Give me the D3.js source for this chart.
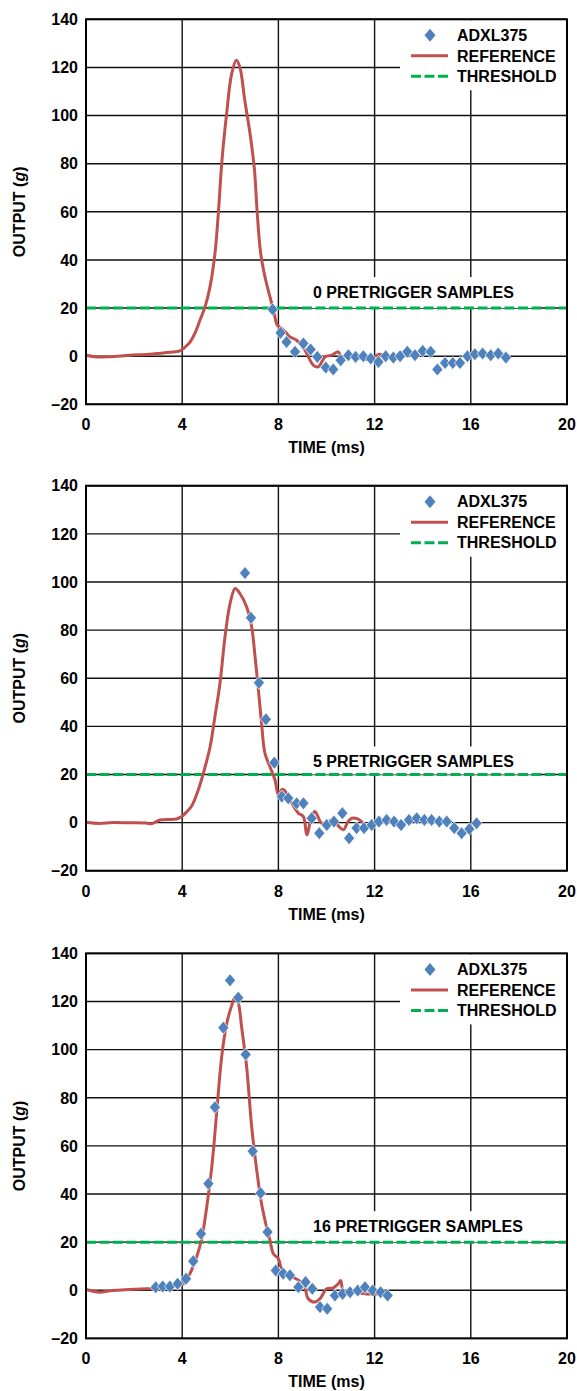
<!DOCTYPE html>
<html>
<head>
<meta charset="utf-8">
<script src="https://cdn.jsdelivr.net/npm/d3@7"></script>
<style>
  body { margin: 0; background: #fff; }
  text { font-family: "Liberation Sans", Arial, sans-serif; font-weight: bold; fill: #000; }
</style>
</head>
<body>
<div id="main"></div>
<script>
const ctx = {
    w: 577,
    h: 1391,
    left: 86,
    right: 567,
    panelTops: [19.3, 485.7, 953.4],
    plotH: 385,
    fontSize: 16,
    RED: "#C0504D",
    BLUE: "#4F81BD",
    GREEN: "#00B050",
};

const X_TICKS = [0, 4, 8, 12, 16, 20];
const Y_TICKS = [-20, 0, 20, 40, 60, 80, 100, 120, 140];
const THRESHOLD = 20;
const LEGEND_NAMES = ["ADXL375", "REFERENCE", "THRESHOLD"];
const PANEL_LABELS = ["0 PRETRIGGER SAMPLES", "5 PRETRIGGER SAMPLES", "16 PRETRIGGER SAMPLES"];

// reference accelerometer, [time ms, g]
const ref0 = [[0, 0.4], [0.44, -0.3], [1, -0.2], [1.83, 0.4], [2.5, 0.7], [2.94, 1.1], [3.5, 1.6], [3.91, 2.2], [4.05, 3.2],
    [4.3, 5.5], [4.55, 10], [4.74, 15], [4.95, 20.5], [5.16, 29], [5.36, 42.5], [5.5, 59], [5.65, 81], [5.85, 101],
    [6.05, 117], [6.25, 123], [6.4, 120], [6.6, 106.5], [6.82, 92.5], [7.0, 78], [7.12, 59.5], [7.26, 43],
    [7.44, 33], [7.65, 24.6], [7.8, 19], [7.95, 13], [8.1, 11.8], [8.3, 10], [8.48, 8], [8.76, 6.6], [9.1, 2.5],
    [9.45, -3.7], [9.66, -4.4], [9.94, -0.3], [10.22, 0.4], [10.49, 1.8], [10.63, -0.3], [11.0, 0], [11.4, -0.8],
    [11.8, -1.5], [12.2, 0.8], [12.4, 0]];
const adxl0 = [[7.76, 19.4], [8.09, 9.7], [8.34, 5.9], [8.69, 1.8], [9.04, 5.3], [9.34, 2.8], [9.62, -0.3],
    [9.97, -4.7], [10.28, -5.5], [10.59, -1.7], [10.91, 0.4], [11.21, -0.3], [11.53, 0], [11.84, -1], [12.16, -2.4],
    [12.46, 0], [12.78, -0.6], [13.06, 0], [13.36, 1.8], [13.68, 0.4], [14.0, 2.2], [14.33, 1.8], [14.61, -5.5],
    [14.93, -2.8], [15.25, -2.8], [15.55, -2.8], [15.86, 0], [16.17, 0.8], [16.49, 1.1], [16.83, 0.4], [17.14, 1.1],
    [17.46, -0.6]];

const ref5 = [[0, 0.1], [0.55, -0.4], [1.1, 0], [1.8, -0.1], [2.5, -0.2], [2.73, -0.5], [3.08, 1.1], [3.77, 1.5],
    [3.98, 2.5], [4.19, 4.5], [4.4, 7], [4.67, 13.6], [4.88, 20.5], [5.16, 31.5], [5.36, 44], [5.57, 57.8], [5.78, 77.2],
    [5.99, 91], [6.2, 97.3], [6.4, 95.2], [6.68, 89.6], [6.89, 81.3], [7.03, 68.9], [7.17, 55], [7.3, 41.2],
    [7.44, 28.8], [7.65, 23.2], [7.86, 17.7], [8.0, 11.5], [8.15, 13.8], [8.27, 13.2], [8.48, 9.4], [8.83, 3.9],
    [9.04, 2.5], [9.18, -5.1], [9.38, 2.5], [9.52, 4.6], [9.8, -0.3], [10.05, 0.3], [10.28, 1.1], [10.5, -1.5],
    [10.7, -3], [10.9, 0.5], [11.05, 1.8], [11.3, 1.5], [11.53, -0.3]];
const adxl5 = [[6.61, 103.7], [6.86, 85.1], [7.19, 58.1], [7.48, 42.9], [7.83, 24.9], [8.14, 10.8], [8.41, 10.1],
    [8.76, 8], [9.04, 8], [9.38, 1.8], [9.7, -4.4], [10.01, -1], [10.31, 0.4], [10.66, 3.9], [10.94, -6.5],
    [11.25, -2.3], [11.56, -2.3], [11.88, -1], [12.18, 0.4], [12.5, 1.1], [12.81, 0.4], [13.1, -1], [13.43, 1.1],
    [13.75, 1.8], [14.07, 1.1], [14.37, 1.1], [14.69, 0.4], [15.0, 0.4], [15.31, -2.3], [15.62, -4.4], [15.94, -2.7],
    [16.24, -0.3]];

const ref16 = [[0, 0.3], [0.55, -0.8], [1.1, -0.1], [1.8, 0.3], [2.52, 0.6], [2.8, 0.6], [3.3, 1.2], [3.8, 2],
    [4.05, 2.7], [4.32, 6.9], [4.6, 13.8], [4.81, 21.4], [5.02, 34.6], [5.23, 51.2], [5.43, 73.4], [5.64, 96.9],
    [5.85, 110.8], [6.06, 118.4], [6.2, 121.9], [6.34, 119.1], [6.47, 109.4], [6.68, 92.8], [6.89, 67.8], [7.1, 49.8],
    [7.3, 36], [7.51, 26.2], [7.65, 20.7], [7.79, 15.2], [8.0, 13.1], [8.14, 8.9], [8.62, 5.4], [9.04, 2.7],
    [9.24, -3.5], [9.52, -4.9], [9.73, -3.5], [10.01, 0.6], [10.28, 1], [10.49, 2.7], [10.59, 4.1], [10.7, -0.1],
    [11.1, -0.8], [11.67, -1.5], [12.22, -1.5]];
const adxl16 = [[2.9, 1.3], [3.19, 1.6], [3.49, 1.6], [3.81, 2.7], [4.16, 4.8], [4.46, 12.1], [4.78, 23.5],
    [5.09, 44.3], [5.36, 76.1], [5.71, 109.1], [5.99, 128.8], [6.33, 121.6], [6.64, 98], [6.93, 57.8], [7.26, 40.4],
    [7.55, 24.2], [7.89, 8.2], [8.2, 6.9], [8.48, 6.2], [8.83, 1.3], [9.13, 3.4], [9.41, 0.6], [9.73, -7],
    [10.03, -7.7], [10.35, -2.2], [10.67, -1.5], [10.98, -0.8], [11.3, -0.1], [11.6, 1.3], [11.92, -0.1],
    [12.25, -0.8], [12.54, -2.2]];

const REF_SERIES = [ref0, ref5, ref16];
const ADXL_SERIES = [adxl0, adxl5, adxl16];
// gap between the panel label baseline and the threshold line
const LABEL_GAPS = [10, 7, 10];

const diamond = "M0,-6.5L5.5,0L0,6.5L-5.5,0Z";

function fmt(v) {
    return v < 0 ? "\u2013" + Math.abs(v) : String(v);
}

function drawPanel(svgEl, i) {
    const top = ctx.panelTops[i];
    const g = svgEl.append("g").attr("transform", `translate(0,${top})`);
    const x = d3.scaleLinear().domain([0, 20]).range([ctx.left, ctx.right]);
    const y = d3.scaleLinear().domain([-20, 140]).range([ctx.plotH, 0]);

    // grid
    g.selectAll("line.vgrid").data(X_TICKS).enter().append("line")
        .attr("x1", (d) => x(d)).attr("x2", (d) => x(d))
        .attr("y1", 0).attr("y2", ctx.plotH)
        .attr("stroke", "#111").attr("stroke-width", 1.4);
    g.selectAll("line.hgrid").data(Y_TICKS).enter().append("line")
        .attr("x1", ctx.left).attr("x2", ctx.right)
        .attr("y1", (d) => y(d)).attr("y2", (d) => y(d))
        .attr("stroke", "#111").attr("stroke-width", 1.4);

    // white boxes behind legend and label
    g.append("rect").attr("x", 400).attr("y", 1).attr("width", ctx.right - 401).attr("height", 70).attr("fill", "#fff");
    const labelY = y(THRESHOLD) - LABEL_GAPS[i];
    g.append("rect").attr("x", 306).attr("y", labelY - 21).attr("width", 226)
        .attr("height", y(THRESHOLD) - labelY + 21).attr("fill", "#fff");

    // tick labels
    g.selectAll("text.xt").data(X_TICKS).enter().append("text")
        .attr("x", (d) => x(d)).attr("y", ctx.plotH + 26)
        .attr("text-anchor", "middle").attr("font-size", ctx.fontSize)
        .text((d) => d);
    g.selectAll("text.yt").data(Y_TICKS).enter().append("text")
        .attr("x", ctx.left - 8).attr("y", (d) => y(d)).attr("dy", "0.36em")
        .attr("text-anchor", "end").attr("font-size", ctx.fontSize)
        .text((d) => fmt(d));

    // axis titles
    g.append("text").attr("x", (ctx.left + ctx.right) / 2).attr("y", ctx.plotH + 49)
        .attr("text-anchor", "middle").attr("font-size", ctx.fontSize).text("TIME (ms)");
    const yl = g.append("text")
        .attr("transform", `translate(19,${ctx.plotH / 2}) rotate(-90)`)
        .attr("dy", "0.36em").attr("text-anchor", "middle").attr("font-size", ctx.fontSize);
    yl.append("tspan").text("OUTPUT (");
    yl.append("tspan").attr("font-style", "italic").text("g");
    yl.append("tspan").text(")");

    // panel label
    g.append("text").attr("x", 313).attr("y", labelY)
        .attr("font-size", ctx.fontSize).text(PANEL_LABELS[i]);

    // threshold
    g.append("line")
        .attr("x1", ctx.left).attr("x2", ctx.right)
        .attr("y1", y(THRESHOLD)).attr("y2", y(THRESHOLD))
        .attr("stroke", ctx.GREEN).attr("stroke-width", 3).attr("stroke-dasharray", "10,3.5");

    // reference curve
    const line = d3.line().x((d) => x(d[0])).y((d) => y(d[1])).curve(d3.curveCatmullRom.alpha(0.5));
    g.append("path").datum(REF_SERIES[i]).attr("d", line)
        .attr("fill", "none").attr("stroke", ctx.RED).attr("stroke-width", 3)
        .attr("stroke-linejoin", "round");

    // ADXL375 samples
    g.selectAll("path.pt").data(ADXL_SERIES[i]).enter().append("path")
        .attr("d", diamond)
        .attr("transform", (d) => `translate(${x(d[0])},${y(d[1])})`)
        .attr("fill", ctx.BLUE).attr("stroke", "#fff").attr("stroke-width", 0.7);

    // frame
    g.append("rect").attr("x", ctx.left).attr("y", 0)
        .attr("width", ctx.right - ctx.left).attr("height", ctx.plotH)
        .attr("fill", "none").attr("stroke", "#000").attr("stroke-width", 2);

    // legend
    const rows = [16, 36.5, 57];
    const lg = g.append("g");
    lg.append("path").attr("d", diamond).attr("transform", `translate(430,${rows[0]})`).attr("fill", ctx.BLUE);
    lg.append("line").attr("x1", 411).attr("x2", 448).attr("y1", rows[1]).attr("y2", rows[1])
        .attr("stroke", ctx.RED).attr("stroke-width", 3);
    lg.append("line").attr("x1", 411).attr("x2", 448).attr("y1", rows[2]).attr("y2", rows[2])
        .attr("stroke", ctx.GREEN).attr("stroke-width", 3).attr("stroke-dasharray", "10,3.5");
    lg.selectAll("text").data(LEGEND_NAMES).enter().append("text")
        .attr("x", 457).attr("y", (d, j) => rows[j]).attr("dy", "0.36em")
        .attr("font-size", ctx.fontSize).text((d) => d);
}

function createViz() {
    let svgEl = d3.select("#main").append("svg")
        .attr("width", ctx.w).attr("height", ctx.h);
    svgEl.append("rect").attr("width", ctx.w).attr("height", ctx.h).attr("fill", "#fff");
    ctx.panelTops.forEach((t, i) => drawPanel(svgEl, i));
}

createViz();
</script>
</body>
</html>
